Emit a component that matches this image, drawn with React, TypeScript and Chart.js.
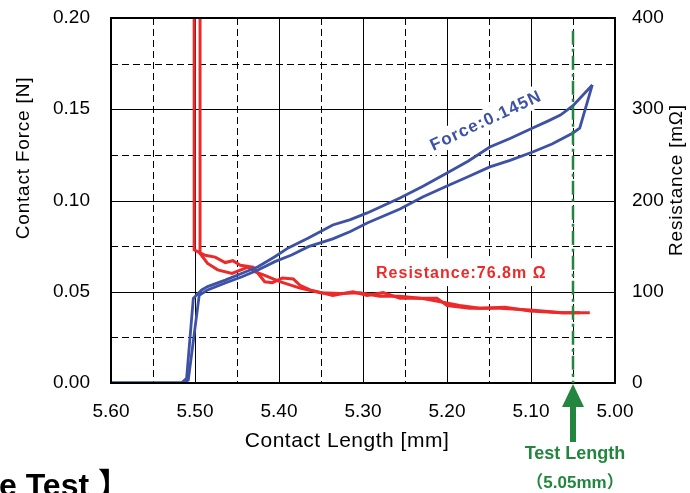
import React, { useEffect, useRef } from "react";
import { Chart, registerables } from "chart.js";

Chart.register(...registerables);

// ---- axis / tick values ----
const xMin = 5.0;
const xMax = 5.6;
const xStep = 0.1;
const yForceMax = 0.2;
const yForceStep = 0.05;
const yResMax = 400;
const yResStep = 100;
const xGridMajor = [5.5, 5.4, 5.3, 5.2, 5.1];
const xGridMinor = [5.55, 5.45, 5.35, 5.25, 5.15, 5.05];
const yGridMajor = [0.05, 0.1, 0.15];
const yGridMinor = [0.025, 0.075, 0.125, 0.175];

// ---- Force series (left axis, N) ----
const forceUpperX = [5.6, 5.516, 5.51, 5.502, 5.492, 5.485, 5.464, 5.444, 5.425, 5.405, 5.389, 5.365, 5.336, 5.315, 5.295, 5.256, 5.228, 5.2, 5.175, 5.149, 5.125, 5.098, 5.08, 5.065, 5.05, 5.027];
const forceUpperY = [0, 0, 0.0026, 0.0464, 0.051, 0.0528, 0.0564, 0.0601, 0.0637, 0.0692, 0.074, 0.0795, 0.0866, 0.0895, 0.0932, 0.1014, 0.108, 0.1151, 0.1215, 0.1293, 0.134, 0.1397, 0.1435, 0.1468, 0.152, 0.1633];
const forceLowerX = [5.6, 5.514, 5.508, 5.495, 5.485, 5.464, 5.444, 5.425, 5.405, 5.385, 5.365, 5.336, 5.315, 5.295, 5.256, 5.229, 5.2, 5.175, 5.149, 5.125, 5.098, 5.075, 5.05, 5.042, 5.027];
const forceLowerY = [0, 0, 0.0016, 0.048, 0.051, 0.0548, 0.0582, 0.0619, 0.0665, 0.0701, 0.0747, 0.079, 0.083, 0.0877, 0.0953, 0.1019, 0.108, 0.113, 0.1184, 0.122, 0.1266, 0.131, 0.137, 0.1397, 0.1633];

// ---- Resistance series (right axis, mΩ) ----
const resAX = [5.501, 5.501, 5.488, 5.476, 5.464, 5.455, 5.446, 5.431, 5.417, 5.408, 5.396, 5.383, 5.375, 5.363, 5.336, 5.312, 5.295, 5.276, 5.256, 5.24, 5.212, 5.2, 5.173, 5.137, 5.101, 5.062, 5.03];
const resAY = [600, 146, 140, 138, 132, 134, 129, 127, 111, 110, 115, 114, 107, 102, 96, 100, 96, 99, 93, 93, 93, 85, 82, 82, 80, 77, 77];
const resBX = [5.494, 5.494, 5.485, 5.473, 5.456, 5.437, 5.429, 5.417, 5.399, 5.375, 5.351, 5.327, 5.304, 5.28, 5.256, 5.232, 5.208, 5.185, 5.161, 5.131, 5.101, 5.065, 5.042];
const resBY = [600, 142, 131, 124, 120, 127, 122, 118, 111, 104, 99, 98, 99, 95, 95, 93, 89, 85, 82, 83, 79, 77, 77];

// ---- annotations ----
const testLength = 5.05;
const testLineTopForce = 0.193;
const forceLabel = "Force:0.145N";
const forceLabelAt = { x: 5.154, y: 0.144 };
const resLabel = "Resistance:76.8m Ω";
const resLabelAt = { x: 5.183, y: 121.5 };
const xTitle = "Contact Length [mm]";
const yTitle = "Contact Force [N]";
const y1Title = "Resistance [mΩ]";
const testText1 = "Test Length";
const testText2 = "（5.05mm）";
const headingText = "e Test 】";

const BLUE = "#3d52a5";
const RED = "#ec2a2a";
const GREEN = "#22863f";
const SANS = "'Liberation Sans', Arial, sans-serif";

const zip = (xs: number[], ys: number[]) => xs.map((x, i) => ({ x, y: ys[i] }));

const decorPlugin = {
  id: "decor",
  beforeDatasetsDraw(chart: any) {
    const { ctx, chartArea, scales } = chart;
    const { left, right, top, bottom } = chartArea;
    const x = scales.x;
    const y = scales.y;
    ctx.save();
    ctx.strokeStyle = "#000";
    ctx.lineWidth = 1;
    const vline = (v: number, dash: number[]) => {
      const px = Math.round(x.getPixelForValue(v)) + 0.5;
      ctx.setLineDash(dash);
      ctx.beginPath();
      ctx.moveTo(px, top);
      ctx.lineTo(px, bottom);
      ctx.stroke();
    };
    const hline = (v: number, dash: number[]) => {
      const py = Math.round(y.getPixelForValue(v)) + 0.5;
      ctx.setLineDash(dash);
      ctx.beginPath();
      ctx.moveTo(left, py);
      ctx.lineTo(right, py);
      ctx.stroke();
    };
    xGridMinor.forEach((v) => vline(v, [7, 4]));
    yGridMinor.forEach((v) => hline(v, [7, 4]));
    xGridMajor.forEach((v) => vline(v, []));
    yGridMajor.forEach((v) => hline(v, []));
    ctx.restore();
  },
  afterDatasetsDraw(chart: any) {
    const { ctx, chartArea, scales } = chart;
    const { left, right, top, bottom } = chartArea;
    const x = scales.x;
    const y = scales.y;
    const y1 = scales.y1;
    ctx.save();
    // frame
    ctx.setLineDash([]);
    ctx.strokeStyle = "#000";
    ctx.lineWidth = 2;
    ctx.strokeRect(left, top, right - left, bottom - top);

    // green test-length line
    const gx = x.getPixelForValue(testLength);
    ctx.strokeStyle = GREEN;
    ctx.lineWidth = 2.5;
    ctx.setLineDash([14, 4, 3, 4]);
    ctx.beginPath();
    ctx.moveTo(gx, y.getPixelForValue(testLineTopForce));
    ctx.lineTo(gx, bottom);
    ctx.stroke();
    ctx.setLineDash([]);

    // arrow
    ctx.fillStyle = GREEN;
    ctx.beginPath();
    ctx.moveTo(gx, bottom + 1);
    ctx.lineTo(gx + 11, bottom + 24);
    ctx.lineTo(gx - 11, bottom + 24);
    ctx.closePath();
    ctx.fill();
    ctx.fillRect(gx - 3, bottom + 23, 6, 36);

    // test length text
    ctx.textAlign = "center";
    ctx.textBaseline = "middle";
    ctx.font = `bold 18px ${SANS}`;
    ctx.fillText(testText1, gx + 2, 454);
    ctx.font = `bold 17px ${SANS}, 'Noto Sans CJK JP'`;
    ctx.fillText(testText2, gx + 2, 483);

    // resistance label with white box
    const rx = x.getPixelForValue(resLabelAt.x);
    const ry = y1.getPixelForValue(resLabelAt.y);
    ctx.font = `bold 16px ${SANS}`;
    (ctx as any).letterSpacing = "1px";
    const rw = ctx.measureText(resLabel).width;
    ctx.fillStyle = "#fff";
    ctx.fillRect(rx - rw / 2 - 5, ry - 14, rw + 10, 28);
    ctx.fillStyle = RED;
    ctx.fillText(resLabel, rx, ry + 1);

    // force label rotated with white box
    const fx = x.getPixelForValue(forceLabelAt.x);
    const fy = y.getPixelForValue(forceLabelAt.y);
    ctx.translate(fx, fy);
    ctx.rotate((-25 * Math.PI) / 180);
    ctx.font = `bold 17px ${SANS}`;
    (ctx as any).letterSpacing = "1.2px";
    const fw = ctx.measureText(forceLabel).width;
    ctx.fillStyle = "#fff";
    ctx.fillRect(-fw / 2 - 3, -11, fw + 6, 22);
    ctx.fillStyle = BLUE;
    ctx.fillText(forceLabel, 0, 1);
    ctx.restore();

    // axis titles
    ctx.save();
    (ctx as any).letterSpacing = "0.8px";
    ctx.fillStyle = "#000";
    ctx.textAlign = "center";
    ctx.textBaseline = "middle";
    ctx.font = `19px ${SANS}`;
    ctx.save();
    ctx.translate(24, 158);
    ctx.rotate(-Math.PI / 2);
    ctx.fillText(yTitle, 0, 0);
    ctx.restore();
    ctx.save();
    ctx.translate(677, 180);
    ctx.rotate(-Math.PI / 2);
    ctx.fillText(y1Title, 0, 0);
    ctx.restore();
    (ctx as any).letterSpacing = "0.5px";
    ctx.font = `21px ${SANS}`;
    ctx.fillText(xTitle, 347, 441);

    // cropped heading
    (ctx as any).letterSpacing = "0px";
    ctx.textAlign = "left";
    ctx.textBaseline = "alphabetic";
    ctx.font = `bold 32px ${SANS}, 'Noto Sans CJK JP'`;
    ctx.fillText(headingText, -1, 496);
    ctx.restore();
  },
};

export default function App() {
  const ref = useRef<HTMLCanvasElement | null>(null);
  useEffect(() => {
    if (!ref.current) return;
    const tickFont = { family: SANS, size: 19 };
    const fitY = (w: number) => (s: any) => {
      s.width = w;
      s.paddingTop = 0;
      s.paddingBottom = 0;
    };
    const chart = new Chart(ref.current, {
      type: "scatter",
      data: {
        datasets: [
          { label: "Force A", data: zip(forceUpperX, forceUpperY), yAxisID: "y", showLine: true, borderColor: BLUE, borderWidth: 2.8, pointRadius: 0, tension: 0, clip: 0 },
          { label: "Force B", data: zip(forceLowerX, forceLowerY), yAxisID: "y", showLine: true, borderColor: BLUE, borderWidth: 2.8, pointRadius: 0, tension: 0, clip: 0 },
          { label: "Resistance A", data: zip(resAX, resAY), yAxisID: "y1", showLine: true, borderColor: RED, borderWidth: 3, pointRadius: 0, tension: 0, clip: 0 },
          { label: "Resistance B", data: zip(resBX, resBY), yAxisID: "y1", showLine: true, borderColor: RED, borderWidth: 3, pointRadius: 0, tension: 0, clip: 0 },
        ],
      } as any,
      options: {
        animation: false,
        responsive: false,
        maintainAspectRatio: false,
        events: [],
        layout: { padding: { top: 18, left: 0, right: 0, bottom: 0 } },
        plugins: { legend: { display: false }, tooltip: { enabled: false } },
        scales: {
          x: {
            type: "linear",
            position: "bottom",
            reverse: true,
            min: xMin,
            max: xMax,
            grid: { display: false, drawTicks: false },
            border: { display: false },
            ticks: {
              stepSize: xStep,
              maxRotation: 0,
              autoSkip: false,
              padding: 17,
              color: "#000",
              font: tickFont,
              callback: (v: any) => Number(v).toFixed(2),
            },
            afterFit: (s: any) => { s.height = 110; s.paddingLeft = 0; s.paddingRight = 0; },
          },
          y: {
            type: "linear",
            position: "left",
            min: 0,
            max: yForceMax,
            grid: { display: false, drawTicks: false },
            border: { display: false },
            ticks: {
              stepSize: yForceStep,
              padding: 21,
              color: "#000",
              font: tickFont,
              callback: (v: any) => Number(v).toFixed(2),
            },
            afterFit: fitY(111),
          },
          y1: {
            type: "linear",
            position: "right",
            min: 0,
            max: yResMax,
            grid: { display: false, drawTicks: false },
            border: { display: false },
            ticks: {
              stepSize: yResStep,
              padding: 17,
              color: "#000",
              font: tickFont,
              callback: (v: any) => String(Math.round(Number(v))),
            },
            afterFit: fitY(75),
          },
        },
      } as any,
      plugins: [decorPlugin],
    });
    return () => chart.destroy();
  }, []);
  return (
    <div style={{ position: "absolute", left: 0, top: 0, width: 690, height: 493, background: "#fff" }}>
      <canvas ref={ref} width={690} height={493} style={{ display: "block" }} />
    </div>
  );
}
